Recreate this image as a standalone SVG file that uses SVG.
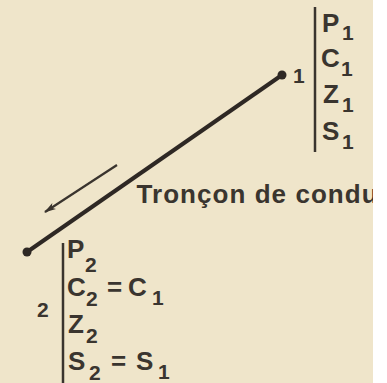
<svg xmlns="http://www.w3.org/2000/svg" width="387" height="383" viewBox="0 0 387 383">
<defs>
<style>
.t{font-family:"Liberation Sans",Arial,sans-serif;font-weight:bold;fill:#3a352f}
.m{font-size:26px}
.s{font-size:21px}
.lbl{font-size:21px}
.bar{stroke:#3a342e;stroke-width:2.5;fill:none}
.dot{fill:#2e2824}
</style>
<marker id="ah" viewBox="0 0 12 8" refX="11" refY="4" markerWidth="12" markerHeight="8" markerUnits="userSpaceOnUse" orient="auto">
<path d="M0,0.5 L12,4 L0,7.5 L3,4 Z" fill="#3a342e"/>
</marker>
<clipPath id="photo"><rect x="0" y="0" width="373" height="383"/></clipPath>
</defs>
<rect x="0" y="0" width="387" height="383" fill="#ffffff"/>
<rect x="0" y="0" width="373" height="383" fill="#efe5ca"/>

<g id="connectors">
<line x1="282" y1="75" x2="27" y2="252" stroke="#2e2824" stroke-width="4"/>
<line x1="117" y1="165" x2="45" y2="212" stroke="#3a342e" stroke-width="2.2" marker-end="url(#ah)"/>
</g>

<g id="node1">
<circle class="dot" cx="282" cy="75" r="4.5"/>
<text class="t lbl" x="293" y="83">1</text>
<line class="bar" x1="315" y1="7" x2="315" y2="152"/>
<text class="t m" x="322" y="32">P<tspan class="s" x="342" y="40">1</tspan></text>
<text class="t m" x="321" y="67">C<tspan class="s" x="341" y="76">1</tspan></text>
<text class="t m" x="323" y="103">Z<tspan class="s" x="342" y="112">1</tspan></text>
<text class="t m" x="322" y="140">S<tspan class="s" x="342" y="149">1</tspan></text>
</g>

<g id="node2">
<circle class="dot" cx="27" cy="252" r="4.5"/>
<text class="t lbl" x="37" y="317">2</text>
<line class="bar" x1="63" y1="243" x2="63" y2="383"/>
<text class="t m" x="67" y="258">P<tspan class="s" x="85" y="272">2</tspan></text>
<text class="t m" x="67" y="296">C<tspan class="s" x="86" y="306">2</tspan><tspan x="107" y="296">=</tspan><tspan x="128" y="296">C</tspan><tspan class="s" x="152" y="305">1</tspan></text>
<text class="t m" x="68" y="333">Z<tspan class="s" x="86" y="343">2</tspan></text>
<text class="t m" x="68" y="370">S<tspan class="s" x="89" y="380">2</tspan><tspan x="111" y="370">=</tspan><tspan x="136" y="370">S</tspan><tspan class="s" x="158" y="379">1</tspan></text>
</g>

<g id="label" clip-path="url(#photo)">
<text class="t m" x="136.5" y="203" letter-spacing="1.05">Tronçon de condu</text>
</g>
</svg>
